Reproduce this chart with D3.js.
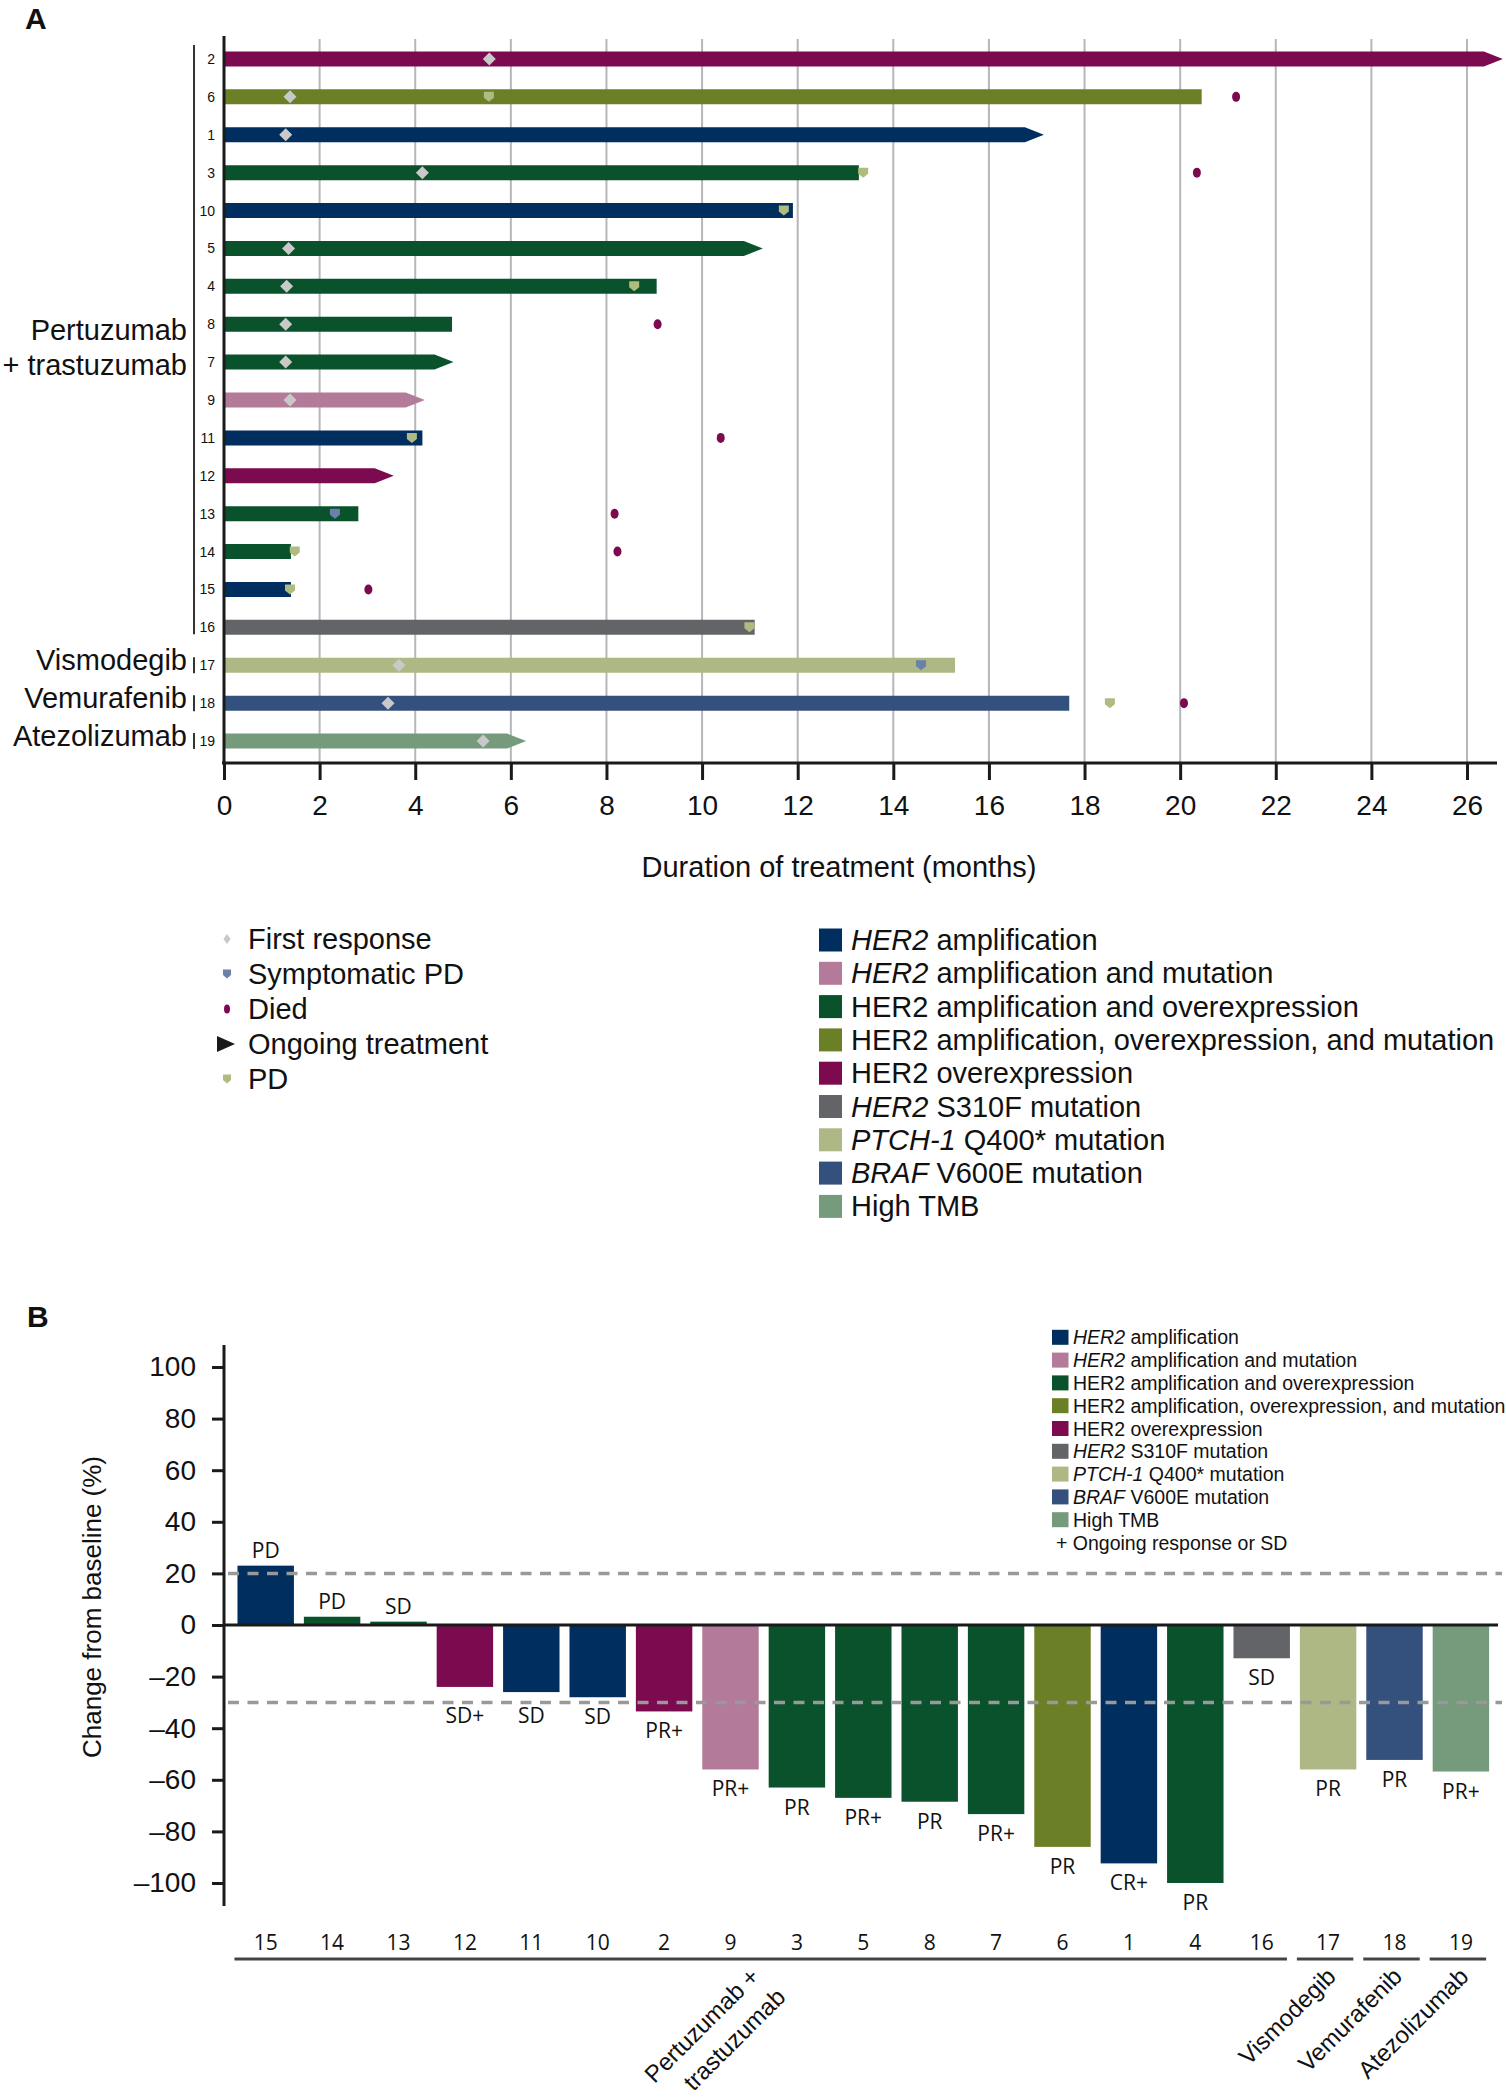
<!DOCTYPE html>
<html><head><meta charset="utf-8">
<script src="https://cdn.jsdelivr.net/npm/d3@7"></script>
<style>
body{margin:0;background:#fff}
svg{display:block}
text{font-family:"Liberation Sans",Arial,Helvetica,sans-serif;fill:#111}
.os{font-family:"Open Sans","Noto Sans",sans-serif}
</style>
</head><body>
<svg id="chart" width="1506" height="2100"></svg>
<script>
// ---------- shared categories ----------
const alterationLabels = [
  ["HER2", " amplification"],
  ["HER2", " amplification and mutation"],
  ["", "HER2 amplification and overexpression"],
  ["", "HER2 amplification, overexpression, and mutation"],
  ["", "HER2 overexpression"],
  ["HER2", " S310F mutation"],
  ["PTCH-1", " Q400* mutation"],
  ["BRAF", " V600E mutation"],
  ["", "High TMB"]
];
const alterationColors = ["#002e5e","#b47a9a","#0a522b","#6b7f27","#7b0a4e","#636467","#adb885","#34517e","#769b7c"];
// alteration index for patients 1..19
const patientAlteration = [0,4,2,2,2,3,2,2,1,0,0,4,2,2,0,5,6,7,8];

// ---------- panel A data ----------
const patientsA   = [2,6,1,3,10,5,4,8,7,9,11,12,13,14,15,16,17,18,19];
const durationA   = [26.75,20.45,17.15,13.28,11.9,11.27,9.05,4.77,4.8,4.2,4.15,3.55,2.81,1.4,1.4,11.1,15.29,17.68,6.32];
const ongoingA    = [true,false,true,false,false,true,false,false,true,true,false,true,false,false,false,false,false,false,true];
const firstRespA  = [5.55,1.38,1.29,4.15,null,1.35,1.31,1.29,1.29,1.38,null,null,null,null,null,null,3.66,3.43,5.42];
const pdA         = [null,5.54,null,13.37,11.71,null,8.58,null,null,null,3.93,null,null,1.48,1.38,10.99,null,18.53,null];
const sympPdA     = [null,null,null,null,null,null,null,null,null,null,null,null,2.32,null,null,null,14.58,null,null];
const diedA       = [null,21.17,null,20.35,null,null,null,9.07,null,null,10.39,null,8.17,8.23,3.02,null,null,20.08,null];
const xTicksA     = [0,2,4,6,8,10,12,14,16,18,20,22,24,26];
const markerLegend = ["First response","Symptomatic PD","Died","Ongoing treatment","PD"];

// ---------- panel B data ----------
const orderB    = [15,14,13,12,11,10,2,9,3,5,8,7,6,1,4,16,17,18,19];
const changeB   = [23,3.2,1.3,-24,-26,-28,-33.5,-56,-63,-67,-68.5,-73.3,-86,-92.4,-100,-12.9,-56,-52.3,-56.8];
const responseB = ["PD","PD","SD","SD+","SD","SD","PR+","PR+","PR","PR+","PR","PR+","PR","CR+","PR","SD","PR","PR","PR+"];
const yTicksB   = [-100,-80,-60,-40,-20,0,20,40,60,80,100];
const groupsB   = [
  {lines:["Pertuzumab +","trastuzumab"], from:15, to:16},
  {lines:["Vismodegib"], from:17, to:17},
  {lines:["Vemurafenib"], from:18, to:18},
  {lines:["Atezolizumab"], from:19, to:19}
];

const colFR = "#c9c9c9", colPD = "#aebc82", colSPD = "#6b80ab", colDied = "#7b0a4e";
const svg = d3.select("#chart");

const diamond = s => `M0,${-s}L${s},0L0,${s}L${-s},0Z`;
const shield = (w,h) => `M${-w/2},${-h/2}H${w/2}V${h*0.1}L0,${h/2}L${-w/2},${h*0.1}Z`;

// =================== PANEL A ===================
const A = svg.append("g");
A.append("text").attr("x",25).attr("y",29).attr("font-size",30).attr("font-weight","bold").text("A");

const xA = d3.scaleLinear().domain([0,26]).range([224,1467]);
const yA = d3.scaleBand().domain(patientsA).range([40,760]);
const cy = p => yA(p) + yA.bandwidth()/2;
const barH = 15;

// grid
A.append("g").selectAll("line").data(xTicksA.filter(d=>d>0)).join("line")
  .attr("x1",d=>xA(d)).attr("x2",d=>xA(d)).attr("y1",39).attr("y2",763)
  .attr("stroke","#b6b6bc").attr("stroke-width",2);

// bars
A.append("g").selectAll("path").data(patientsA).join("path")
  .attr("fill",(p)=>alterationColors[patientAlteration[p-1]])
  .attr("d",(p,i)=>{
    const x0 = xA(0)+1, xe = xA(durationA[i]), y0 = cy(p)-barH/2, y1 = cy(p)+barH/2;
    if (ongoingA[i]) return `M${x0},${y0}H${xe-19}L${xe},${cy(p)}L${xe-19},${y1}H${x0}Z`;
    return `M${x0},${y0}H${xe}V${y1}H${x0}Z`;
  });

// markers
const mk = A.append("g");
patientsA.forEach((p,i)=>{
  if (firstRespA[i]!=null) mk.append("path").attr("d",diamond(6.5)).attr("fill",colFR)
      .attr("transform",`translate(${xA(firstRespA[i])},${cy(p)})`);
  if (pdA[i]!=null) mk.append("path").attr("d",shield(10,10)).attr("fill",colPD)
      .attr("transform",`translate(${xA(pdA[i])},${cy(p)})`);
  if (sympPdA[i]!=null) mk.append("path").attr("d",shield(10,10)).attr("fill",colSPD)
      .attr("transform",`translate(${xA(sympPdA[i])},${cy(p)})`);
  if (diedA[i]!=null) mk.append("ellipse").attr("cx",xA(diedA[i])).attr("cy",cy(p))
      .attr("rx",4).attr("ry",5).attr("fill",colDied);
});

// axes lines
A.append("line").attr("x1",224).attr("x2",224).attr("y1",36).attr("y2",764).attr("stroke","#1a1a1a").attr("stroke-width",3);
const axA = d3.axisBottom(xA).tickValues(xTicksA).tickSize(17).tickPadding(15);
const gAx = A.append("g").attr("transform","translate(0,763)").call(axA);
gAx.select(".domain").remove();
gAx.selectAll(".tick line").attr("stroke","#1a1a1a").attr("stroke-width",3);
gAx.selectAll(".tick text").attr("font-size",28).attr("font-family","'Liberation Sans',Arial,sans-serif").attr("fill","#111");
A.append("line").attr("x1",222).attr("x2",1497).attr("y1",763).attr("y2",763).attr("stroke","#1a1a1a").attr("stroke-width",3);
A.append("text").attr("x",839).attr("y",877).attr("text-anchor","middle").attr("font-size",29)
  .text("Duration of treatment (months)");

// patient numbers
A.append("g").selectAll("text").data(patientsA).join("text")
  .attr("x",215).attr("y",p=>cy(p)+5).attr("text-anchor","end").attr("font-size",14).text(p=>p);

// group brackets & labels
A.append("line").attr("x1",194).attr("x2",194).attr("y1",cy(2)-14).attr("y2",cy(16)+7).attr("stroke","#333").attr("stroke-width",2);
[17,18,19].forEach(p=>{
  A.append("line").attr("x1",194).attr("x2",194).attr("y1",cy(p)-8).attr("y2",cy(p)+8).attr("stroke","#333").attr("stroke-width",2);
});
A.append("text").attr("x",187).attr("y",340).attr("text-anchor","end").attr("font-size",29).text("Pertuzumab");
A.append("text").attr("x",187).attr("y",375).attr("text-anchor","end").attr("font-size",29).text("+ trastuzumab");
A.append("text").attr("x",187).attr("y",cy(17)+5).attr("text-anchor","end").attr("font-size",29).text("Vismodegib");
A.append("text").attr("x",187).attr("y",cy(18)+5).attr("text-anchor","end").attr("font-size",29).text("Vemurafenib");
A.append("text").attr("x",187).attr("y",cy(19)+5).attr("text-anchor","end").attr("font-size",29).text("Atezolizumab");

// legend markers
const lgA = A.append("g");
markerLegend.forEach((lab,i)=>{
  const yc = 939 + i*35;
  const g = lgA.append("g").attr("transform",`translate(227,${yc})`);
  if (i===0) g.append("path").attr("d","M0,-5L3.6,0L0,5L-3.6,0Z").attr("fill",colFR);
  if (i===1) g.append("path").attr("d",shield(8,9)).attr("fill",colSPD);
  if (i===2) g.append("ellipse").attr("rx",3).attr("ry",4.5).attr("fill",colDied);
  if (i===3) g.append("path").attr("d","M-10,-8L8,0L-10,8Z").attr("fill","#1a1a1a");
  if (i===4) g.append("path").attr("d",shield(8,9)).attr("fill",colPD);
  lgA.append("text").attr("x",248).attr("y",yc+10).attr("font-size",29).text(lab);
});
// legend alterations
const lgA2 = A.append("g");
alterationLabels.forEach((lab,i)=>{
  const yc = 940 + i*33.3;
  lgA2.append("rect").attr("x",819).attr("y",yc-11.5).attr("width",23).attr("height",23).attr("fill",alterationColors[i]);
  const t = lgA2.append("text").attr("x",851).attr("y",yc+10).attr("font-size",29);
  if (lab[0]) t.append("tspan").attr("font-style","italic").text(lab[0]);
  t.append("tspan").text(lab[1]);
});

// =================== PANEL B ===================
const B = svg.append("g");
B.append("text").attr("x",27).attr("y",1327).attr("font-size",30).attr("font-weight","bold").text("B");

const yB = d3.scaleLinear().domain([-100,100]).range([1883,1367]);
const xB = d3.scaleBand().domain(orderB).range([232.5,1494.1]).paddingInner(0.15).paddingOuter(0.075);

B.append("g").selectAll("rect").data(orderB).join("rect")
  .attr("x",p=>xB(p)).attr("width",xB.bandwidth())
  .attr("y",(p,i)=>Math.min(yB(0),yB(changeB[i])))
  .attr("height",(p,i)=>Math.abs(yB(changeB[i])-yB(0)))
  .attr("fill",p=>alterationColors[patientAlteration[p-1]]);

// response labels
const dashY = yB(-30);
B.append("g").selectAll("text").data(orderB).join("text").attr("class","os")
  .attr("x",p=>xB(p)+xB.bandwidth()/2)
  .attr("y",(p,i)=>{
    if (changeB[i]>=0) return yB(changeB[i])-8;
    const b = yB(changeB[i])+27;
    return (b > dashY && b < dashY+21) ? dashY+21 : b;
  })
  .attr("text-anchor","middle").attr("font-size",21).attr("fill","#222")
  .text((p,i)=>responseB[i]);

// dashed thresholds
[20,-30].forEach(v=>{
  B.append("line").attr("x1",228).attr("x2",1502).attr("y1",yB(v)).attr("y2",yB(v))
    .attr("stroke","#999").attr("stroke-width",3.5).attr("stroke-dasharray","11,8.5");
});
// zero line
B.append("line").attr("x1",224).attr("x2",1498).attr("y1",yB(0)).attr("y2",yB(0)).attr("stroke","#1a1a1a").attr("stroke-width",3);

// y axis
B.append("line").attr("x1",224).attr("x2",224).attr("y1",1345).attr("y2",1906).attr("stroke","#1a1a1a").attr("stroke-width",3);
const axB = d3.axisLeft(yB).tickValues(yTicksB).tickSize(12).tickPadding(16)
  .tickFormat(d=>d<0?"\u2013"+Math.abs(d):String(d));
const gBy = B.append("g").attr("transform","translate(224,0)").call(axB);
gBy.select(".domain").remove();
gBy.selectAll(".tick line").attr("stroke","#1a1a1a").attr("stroke-width",3);
gBy.selectAll(".tick text").attr("font-size",28).attr("font-family","'Liberation Sans',Arial,sans-serif").attr("fill","#111");
B.append("text").attr("transform","translate(101,1607) rotate(-90)").attr("text-anchor","middle")
  .attr("font-size",26).text("Change from baseline (%)");

// patient numbers under bars
B.append("g").selectAll("text").data(orderB).join("text").attr("class","os")
  .attr("x",p=>xB(p)+xB.bandwidth()/2).attr("y",1950).attr("text-anchor","middle")
  .attr("font-size",21).attr("fill","#222").text(p=>p);

// group lines and rotated labels
groupsB.forEach(g=>{
  const x1 = xB(g.from)-3, x2 = xB(g.to)+xB.bandwidth()-3;
  B.append("line").attr("x1",x1).attr("x2",x2).attr("y1",1959).attr("y2",1959)
    .attr("stroke","#444").attr("stroke-width",3);
  const cx = (x1+x2)/2;
  const tg = B.append("g").attr("transform",`translate(${cx + (g.lines.length>1 ? 0 : 12)},${1978}) rotate(-45)`);
  g.lines.forEach((ln,j)=>{
    tg.append("text").attr("x",j*4).attr("y",j*33).attr("text-anchor","end").attr("font-size",24).text(ln);
  });
});

// legend B
const lgB = B.append("g");
alterationLabels.forEach((lab,i)=>{
  const yc = 1337.3 + i*22.8;
  lgB.append("rect").attr("x",1052).attr("y",yc-7.5).attr("width",16.5).attr("height",15).attr("fill",alterationColors[i]);
  const t = lgB.append("text").attr("x",1073).attr("y",yc+7).attr("font-size",19.5);
  if (lab[0]) t.append("tspan").attr("font-style","italic").text(lab[0]);
  t.append("tspan").text(lab[1]);
});
lgB.append("text").attr("x",1056).attr("y",1337.3+9*22.8+7).attr("font-size",19.5).text("+ Ongoing response or SD");
</script>
</body></html>
